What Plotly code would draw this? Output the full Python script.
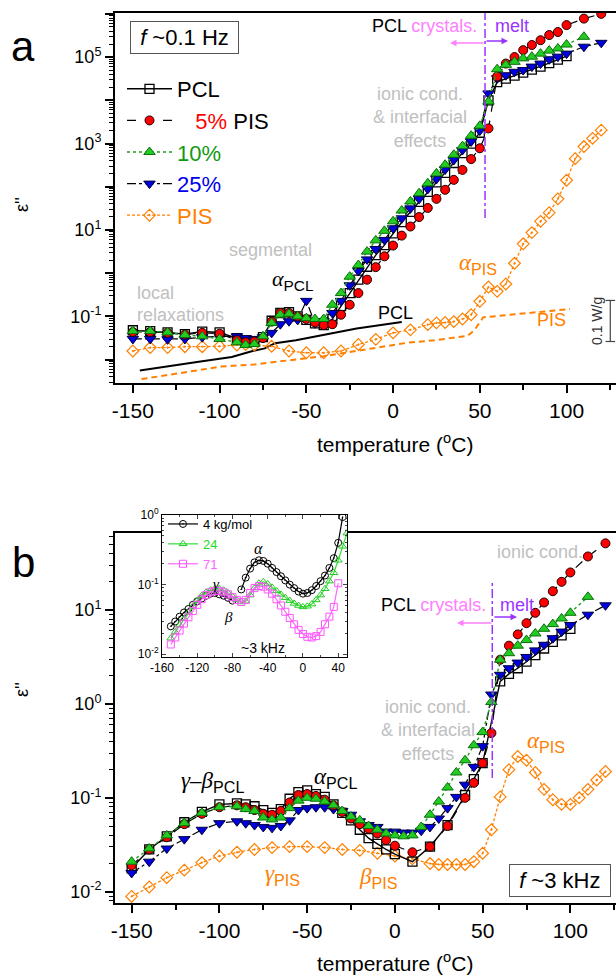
import plotly.graph_objects as go

FONT = "Liberation Sans, Arial, sans-serif"
SERIF = "Liberation Serif, Times New Roman, serif"
ORANGE = "#ff8000"
GRAY = "#c0c0c0"
PINK = "#ff80ff"
PURPLE = "#9933ff"

# ---------------- panel a: f ~ 0.1 Hz  (values are log10 of eps'') ----------------
T_a_pcl = [-150,-140,-130,-120,-110,-100,-90,-85,-80,-75,-70,-65,-60,-55,-50,-45,-40,-35,-30,-25,-20,-15,-10,-5,0,5,10,15,20,25,30,35,40,45,50,55,60,65,70,75,80,85,90,95,100]
L_a_pcl = [-1.32,-1.34,-1.37,-1.41,-1.35,-1.37,-1.50,-1.58,-1.58,-1.48,-1.10,-0.92,-0.90,-1.00,-1.08,-1.16,-1.20,-1.06,-0.76,-0.46,-0.15,0.15,0.42,0.65,0.92,1.18,1.42,1.65,1.88,2.10,2.32,2.55,2.78,3.00,3.25,4.00,4.42,4.50,4.57,4.64,4.71,4.78,4.86,4.94,5.02]

T_a_5 = [-150,-140,-130,-120,-110,-100,-90,-85,-80,-75,-70,-65,-60,-55,-50,-45,-40,-35,-30,-25,-20,-15,-10,-5,0,5,10,15,20,25,30,35,40,45,50,55,60,65,70,75,80,85,90,95,100,110,120]
L_a_5 = [-1.36,-1.36,-1.38,-1.42,-1.38,-1.40,-1.55,-1.60,-1.58,-1.50,-1.12,-0.92,-0.92,-1.00,-1.06,-1.14,-1.20,-1.18,-0.96,-0.73,-0.46,-0.15,0.14,0.39,0.64,0.87,1.08,1.30,1.51,1.72,1.93,2.16,2.39,2.64,2.89,3.35,4.55,4.85,5.00,5.16,5.28,5.39,5.51,5.58,5.74,5.89,6.00]

T_a_10 = [-150,-140,-130,-120,-110,-100,-90,-85,-80,-75,-70,-65,-60,-55,-50,-45,-40,-35,-30,-25,-20,-15,-10,-5,0,5,10,15,20,25,30,35,40,45,50,55,60,65,70,75,80,85,90,95,100,110]
L_a_10 = [-1.34,-1.34,-1.37,-1.43,-1.46,-1.52,-1.60,-1.66,-1.64,-1.46,-1.15,-0.96,-0.94,-1.00,-1.04,-1.06,-1.06,-0.73,-0.46,-0.08,0.19,0.50,0.76,0.98,1.20,1.45,1.66,1.85,2.08,2.31,2.51,2.74,2.94,3.18,3.41,3.97,4.72,4.82,4.89,4.97,5.01,5.08,5.15,5.20,5.29,5.47]

T_a_25 = [-150,-140,-130,-120,-110,-100,-90,-85,-80,-75,-70,-65,-60,-55,-50,-45,-40,-35,-30,-25,-20,-15,-10,-5,0,5,10,15,20,25,30,35,40,45,50,55,60,65,70,75,80,85,90,95,100,110,120]
L_a_25 = [-1.52,-1.52,-1.53,-1.52,-1.48,-1.46,-1.46,-1.50,-1.52,-1.48,-1.38,-1.18,-1.11,-1.08,-0.64,-1.16,-1.11,-0.92,-0.64,-0.28,0.05,0.32,0.56,0.77,1.04,1.27,1.50,1.72,1.95,2.18,2.40,2.62,2.85,3.05,3.30,4.16,4.51,4.58,4.66,4.70,4.78,4.85,4.95,5.01,5.08,5.24,5.33]

T_a_pis = [-150,-140,-130,-120,-110,-100,-90,-85,-80,-70,-60,-50,-40,-30,-20,-10,0,10,20,25,30,35,40,45,50,55,60,65,70,75,80,85,90,95,100,105,110,115,120]
L_a_pis = [-1.80,-1.72,-1.72,-1.70,-1.70,-1.69,-1.66,-1.65,-1.66,-1.69,-1.80,-1.84,-1.84,-1.80,-1.65,-1.53,-1.38,-1.31,-1.19,-1.15,-1.14,-1.12,-1.06,-0.96,-0.65,-0.32,-0.42,-0.25,0.23,0.68,0.94,1.20,1.40,1.72,2.15,2.65,2.93,3.12,3.31]

# DSC heat-flow curves (arbitrary vertical position, plotted on same log axis)
T_dsc_pcl = [-146,-130,-112,-93,-81,-74,-68,-56,-40,-21,5]
L_dsc_pcl = [-2.25,-2.15,-2.05,-1.94,-1.80,-1.74,-1.62,-1.55,-1.43,-1.28,-1.13]
T_dsc_pis = [-145,-124,-99,-80,-40,8,24,43,47,52,69,92,102]
L_dsc_pis = [-2.45,-2.31,-2.16,-2.11,-1.92,-1.61,-1.55,-1.45,-1.31,-1.02,-0.96,-0.88,-0.83]

# ---------------- panel b: f ~ 3 kHz ----------------
T_b_pcl = [-150,-140,-130,-120,-110,-100,-90,-85,-80,-75,-70,-65,-60,-55,-50,-45,-40,-35,-30,-25,-20,-15,-10,-5,0,10,20,30,40,45,50,60,65,70,75,80,85,90,95,100]
L_b_pcl = [-1.75,-1.55,-1.41,-1.26,-1.15,-1.07,-1.06,-1.07,-1.09,-1.13,-1.16,-1.12,-1.01,-0.94,-0.92,-0.96,-0.99,-1.07,-1.16,-1.24,-1.34,-1.43,-1.49,-1.55,-1.60,-1.68,-1.52,-1.29,-0.97,-0.80,-0.63,0.24,0.32,0.38,0.45,0.52,0.59,0.66,0.73,0.80]

T_b_5 = [-150,-140,-130,-120,-110,-100,-90,-85,-80,-75,-70,-65,-60,-55,-50,-45,-40,-35,-30,-25,-20,-15,-10,-5,0,10,20,30,40,45,50,55,60,65,70,75,80,85,90,95,100,110,120]
L_b_5 = [-1.72,-1.55,-1.42,-1.28,-1.17,-1.10,-1.08,-1.10,-1.13,-1.17,-1.18,-1.14,-1.05,-0.97,-0.96,-0.98,-1.02,-1.08,-1.15,-1.22,-1.28,-1.33,-1.38,-1.45,-1.51,-1.58,-1.52,-1.30,-1.00,-0.84,-0.63,-0.31,0.47,0.62,0.74,0.86,0.97,1.08,1.20,1.30,1.40,1.57,1.71]

T_b_10 = [-150,-140,-130,-120,-110,-100,-90,-85,-80,-75,-70,-65,-60,-55,-50,-45,-40,-35,-30,-25,-20,-15,-10,-5,0,5,10,15,20,25,30,35,40,45,50,55,60,65,70,75,80,85,90,95,100,110]
L_b_10 = [-1.68,-1.54,-1.40,-1.27,-1.16,-1.10,-1.09,-1.12,-1.14,-1.21,-1.23,-1.21,-1.11,-1.03,-1.00,-1.01,-1.04,-1.08,-1.14,-1.20,-1.24,-1.30,-1.34,-1.38,-1.40,-1.41,-1.40,-1.31,-1.18,-1.04,-0.89,-0.73,-0.60,-0.44,-0.30,0.02,0.47,0.54,0.62,0.68,0.75,0.80,0.85,0.91,0.97,1.14]

T_b_25 = [-150,-140,-130,-120,-110,-100,-90,-85,-80,-75,-70,-65,-60,-55,-50,-45,-40,-35,-30,-25,-20,-15,-10,-5,0,5,10,15,20,25,30,35,40,45,50,55,60,65,70,75,80,85,90,95,100,110,120]
L_b_25 = [-1.80,-1.68,-1.54,-1.44,-1.34,-1.27,-1.25,-1.27,-1.29,-1.31,-1.32,-1.30,-1.24,-1.13,-1.11,-1.10,-1.10,-1.12,-1.14,-1.18,-1.25,-1.29,-1.31,-1.36,-1.36,-1.37,-1.37,-1.35,-1.31,-1.22,-1.11,-0.99,-0.86,-0.67,-0.45,0.10,0.31,0.38,0.44,0.50,0.57,0.63,0.70,0.77,0.84,0.95,1.05]

T_b_pis = [-150,-140,-130,-120,-110,-100,-90,-80,-70,-60,-50,-40,-30,-20,-10,0,10,20,25,30,35,40,45,50,55,60,65,70,75,80,85,90,95,100,105,110,115,120]
L_b_pis = [-2.05,-1.95,-1.85,-1.77,-1.69,-1.62,-1.58,-1.55,-1.53,-1.52,-1.52,-1.53,-1.55,-1.56,-1.59,-1.62,-1.65,-1.70,-1.71,-1.71,-1.71,-1.71,-1.68,-1.59,-1.34,-0.99,-0.70,-0.56,-0.60,-0.73,-0.91,-1.02,-1.07,-1.07,-1.00,-0.91,-0.81,-0.72]

# ---------------- inset: molar mass series at ~3 kHz ----------------
T_in_4 = [-150,-145,-140,-135,-130,-125,-120,-115,-110,-105,-100,-95,-90,-85,-80,-75,-70,-65,-60,-55,-50,-45,-40,-35,-30,-25,-20,-15,-10,-5,0,5,10,15,20,25,30,35,40,45]
L_in_4 = [-1.60,-1.53,-1.46,-1.40,-1.35,-1.29,-1.24,-1.20,-1.16,-1.13,-1.12,-1.14,-1.16,-1.19,-1.23,None,-1.07,-0.90,-0.77,-0.68,-0.65,-0.66,-0.70,-0.76,-0.82,-0.88,-0.94,-1.00,-1.05,-1.10,-1.13,-1.12,-1.08,-1.02,-0.95,-0.87,-0.76,-0.62,-0.40,-0.03]
T_in_24 = [-150,-145,-140,-135,-130,-125,-120,-115,-110,-105,-100,-95,-90,-85,-80,-75,-70,-65,-60,-55,-50,-45,-40,-35,-30,-25,-20,-15,-10,-5,0,5,10,15,20,25,30,35,40,45,50]
L_in_24 = [-1.77,-1.68,-1.58,-1.49,-1.40,-1.31,-1.23,-1.16,-1.11,-1.08,-1.06,-1.06,-1.08,-1.12,-1.17,-1.22,-1.25,-1.24,-1.15,-1.05,-0.98,-0.96,-0.99,-1.04,-1.09,-1.14,-1.19,-1.23,-1.27,-1.30,-1.32,-1.31,-1.28,-1.22,-1.15,-1.06,-0.95,-0.83,-0.65,-0.45,-0.26]
T_in_71 = [-150,-145,-140,-135,-130,-125,-120,-115,-110,-105,-100,-95,-90,-85,-80,-75,-70,-65,-60,-55,-50,-45,-40,-35,-30,-25,-20,-15,-10,-5,0,5,10,15,20,25,30,35,40]
L_in_71 = [-1.86,-1.76,-1.66,-1.56,-1.47,-1.38,-1.29,-1.21,-1.15,-1.11,-1.09,-1.09,-1.11,-1.14,-1.18,-1.22,-1.25,-1.22,-1.12,-1.05,-1.02,-1.03,-1.07,-1.13,-1.21,-1.30,-1.39,-1.48,-1.57,-1.65,-1.71,-1.75,-1.76,-1.74,-1.68,-1.57,-1.46,-1.32,-0.98]

# melting line and DSC scale bar
T_melt_a, L_melt_a = [53, 53], [1.28, 6.2]
T_melt_b, L_melt_b = [55.5, 55.5], [-0.79, 1.29]
T_bar = [122.5, 128, None, 125.2, 125.2, None, 122.5, 128]
L_bar = [-0.63, -0.63, None, -0.63, -1.58, None, -1.58, -1.58]

x_ticks = [-150, -100, -50, 0, 50, 100]
x_ticktext = ["-150", "-100", "-50", "0", "50", "100"]
in_x_ticks = [-160, -120, -80, -40, 0, 40]
in_x_ticktext = ["-160", "-120", "-80", "-40", "0", "40"]


def ev(logs):
    return [None if v is None else 10 ** v for v in logs]


W, H = 616, 980
ML, MR, MT, MB = 115, 0, 13, 77
PW, PH = W - ML - MR, H - MT - MB


def px(x):
    return (x - ML) / PW


def py(y):
    return (H - MB - y) / PH


fig = go.Figure()

STY = {
    "pcl": dict(line=dict(color="black", width=1.4, dash="solid"),
                marker=dict(symbol="square-open", size=9, color="black", line=dict(width=1.3, color="black"))),
    "5": dict(line=dict(color="black", width=1.2, dash="dash"),
              marker=dict(symbol="circle", size=9, color="#ff0000", line=dict(width=1, color="#200000"))),
    "10": dict(line=dict(color="#1fa01f", width=1.4, dash="dot"),
               marker=dict(symbol="triangle-up", size=10, color="#22cc22", line=dict(width=1, color="#0c6e0c"))),
    "25": dict(line=dict(color="black", width=1.2, dash="dashdot"),
               marker=dict(symbol="triangle-down", size=10, color="#0000dd", line=dict(width=1, color="#000040"))),
    "pis": dict(line=dict(color=ORANGE, width=1.3, dash="3px,2px"),
                marker=dict(symbol="diamond-open-dot", size=9, color=ORANGE, line=dict(width=1.2, color=ORANGE))),
}
NAMES = {
    "pcl": "PCL",
    "5": "<span style='color:#ff0000'>\u00a0\u00a0\u00a05%</span> PIS",
    "10": "<span style='color:#119911'>10%</span>",
    "25": "<span style='color:#0000ee'>25%</span>",
    "pis": f"<span style='color:{ORANGE}'>PIS</span>",
}
RANK = {"pcl": 1, "5": 2, "10": 3, "25": 4, "pis": 5}

# DSC curves (panel a)
fig.add_trace(go.Scatter(x=T_dsc_pis, y=ev(L_dsc_pis), mode="lines", showlegend=False,
                         line=dict(color=ORANGE, width=2, dash="6px,4px"), xaxis="x", yaxis="y"))
fig.add_trace(go.Scatter(x=T_dsc_pcl, y=ev(L_dsc_pcl), mode="lines", showlegend=False,
                         line=dict(color="black", width=2), xaxis="x", yaxis="y"))

series_a = [("pis", T_a_pis, L_a_pis), ("pcl", T_a_pcl, L_a_pcl), ("25", T_a_25, L_a_25),
            ("5", T_a_5, L_a_5), ("10", T_a_10, L_a_10)]
for key, T, L in series_a:
    fig.add_trace(go.Scatter(x=T, y=ev(L), mode="lines+markers", name=NAMES[key], legendrank=RANK[key],
                             showlegend=True, legend="legend", xaxis="x", yaxis="y", **STY[key]))

series_b = [("pis", T_b_pis, L_b_pis), ("pcl", T_b_pcl, L_b_pcl), ("25", T_b_25, L_b_25),
            ("5", T_b_5, L_b_5), ("10", T_b_10, L_b_10)]
for key, T, L in series_b:
    fig.add_trace(go.Scatter(x=T, y=ev(L), mode="lines+markers", showlegend=False,
                             xaxis="x2", yaxis="y2", **STY[key]))

# melt lines and scale bar
fig.add_trace(go.Scatter(x=T_melt_a, y=ev(L_melt_a), mode="lines", showlegend=False,
                         line=dict(color=PURPLE, width=1.5, dash="dashdot"), xaxis="x", yaxis="y"))
fig.add_trace(go.Scatter(x=T_melt_b, y=ev(L_melt_b), mode="lines", showlegend=False,
                         line=dict(color=PURPLE, width=1.5, dash="dashdot"), xaxis="x2", yaxis="y2"))
fig.add_trace(go.Scatter(x=T_bar, y=ev(L_bar), mode="lines", showlegend=False, connectgaps=False,
                         line=dict(color="#444444", width=1.2), xaxis="x", yaxis="y"))

# inset
fig.add_trace(go.Scatter(x=T_in_4, y=ev(L_in_4), mode="lines+markers", name="4 kg/mol", legend="legend2",
                         connectgaps=False, xaxis="x3", yaxis="y3",
                         line=dict(color="black", width=1.2),
                         marker=dict(symbol="circle-open-dot", size=7, color="black", line=dict(width=1))))
fig.add_trace(go.Scatter(x=T_in_24, y=ev(L_in_24), mode="lines+markers",
                         name="<span style='color:#22dd22'>24</span>", legend="legend2",
                         xaxis="x3", yaxis="y3", line=dict(color="#33dd33", width=1.2),
                         marker=dict(symbol="triangle-up-open", size=7, color="#22cc22", line=dict(width=1))))
fig.add_trace(go.Scatter(x=T_in_71, y=ev(L_in_71), mode="lines+markers",
                         name="<span style='color:#ff66ff'>71</span>", legend="legend2",
                         xaxis="x3", yaxis="y3", line=dict(color="#ff66ff", width=1.2),
                         marker=dict(symbol="square-open", size=7, color="#ff55ff", line=dict(width=1))))


def minor_log(lo, hi):
    return [k * 10 ** d for d in range(lo, hi) for k in range(2, 10)]


def xaxis_main(rng, anchor, domain=(0, 1)):
    return dict(range=rng, domain=list(domain), anchor=anchor, showline=True, linewidth=2, linecolor="black",
                mirror=True, ticks="outside", ticklen=8, tickwidth=1.5, tickcolor="black",
                tickmode="array", tickvals=x_ticks, ticktext=x_ticktext,
                tickfont=dict(family=FONT, size=21, color="black"),
                minor=dict(ticks="outside", ticklen=5, tickwidth=1.5, tickcolor="black",
                           tickmode="array", tickvals=[-125, -75, -25, 25, 75, 125]),
                showgrid=False, zeroline=False)


def yaxis_main(rng, anchor, domain, vals, texts, mlo, mhi):
    return dict(type="log", range=rng, domain=list(domain), anchor=anchor, showline=True, linewidth=2,
                linecolor="black", ticks="outside", ticklen=8, tickwidth=1.5, tickcolor="black",
                tickmode="array", tickvals=vals, ticktext=texts,
                tickfont=dict(family=FONT, size=18, color="black"),
                minor=dict(ticks="outside", ticklen=4, tickwidth=1.2, tickcolor="black",
                           tickmode="array", tickvals=minor_log(mlo, mhi)),
                showgrid=False, zeroline=False)


ya_vals = [10 ** d for d in range(-2, 7)]
ya_text = ["", "10<sup>-1</sup>", "", "10<sup>1</sup>", "", "10<sup>3</sup>", "", "10<sup>5</sup>", ""]
yb_vals = [10 ** d for d in range(-2, 2)]
yb_text = ["10<sup>-2</sup>", "10<sup>-1</sup>", "10<sup>0</sup>", "10<sup>1</sup>"]

dom_a = (py(383), 1.0)
dom_b = (0.0, py(533))
inset_x = (px(162), px(347))
inset_y = (py(657), py(515))

layout = dict(
    width=W, height=H, margin=dict(l=ML, r=MR, t=MT, b=MB),
    paper_bgcolor="white", plot_bgcolor="white",
    font=dict(family=FONT, color="black"),
    xaxis=xaxis_main([-160.3, 128.5], "y"),
    yaxis=yaxis_main([-2.54, 6.02], "x", dom_a, ya_vals, ya_text, -3, 7),
    xaxis2=xaxis_main([-159.5, 126], "y2"),
    yaxis2=yaxis_main([-2.12, 1.82], "x2", dom_b, yb_vals, yb_text, -3, 2),
    xaxis3=dict(range=[-160, 50], domain=list(inset_x), anchor="y3", showline=True, linewidth=1,
                linecolor="black", mirror="ticks", ticks="inside", ticklen=4, tickwidth=1,
                tickmode="array", tickvals=in_x_ticks, ticktext=in_x_ticktext,
                tickfont=dict(family=FONT, size=12, color="black"),
                minor=dict(ticks="inside", ticklen=2, tickwidth=1, tickmode="array",
                           tickvals=[-140, -100, -60, -20, 20]),
                showgrid=False, zeroline=False),
    yaxis3=dict(type="log", range=[-2.04, 0.0], domain=list(inset_y), anchor="x3", showline=True, linewidth=1,
                linecolor="black", mirror="ticks", ticks="inside", ticklen=4, tickwidth=1,
                tickmode="array", tickvals=[0.01, 0.1, 1],
                ticktext=["10<sup>-2</sup>", "10<sup>-1</sup>", "10<sup>0</sup>"],
                tickfont=dict(family=FONT, size=12, color="black"),
                minor=dict(ticks="inside", ticklen=2, tickwidth=1, tickmode="array",
                           tickvals=minor_log(-3, 1)),
                showgrid=False, zeroline=False),
    legend=dict(x=px(122), y=py(68), xanchor="left", yanchor="top", bgcolor="rgba(0,0,0,0)",
                font=dict(family=FONT, size=22, color="black"), tracegroupgap=0, itemwidth=45,
                traceorder="normal"),
    legend2=dict(x=px(163), y=py(509), xanchor="left", yanchor="top", bgcolor="rgba(0,0,0,0)",
                 font=dict(family=FONT, size=13, color="black"), tracegroupgap=0, itemwidth=30),
    showlegend=True,
)
fig.update_layout(**layout)


def ann(text, x, y, size=18, color="black", xanchor="center", yanchor="middle", family=FONT, **kw):
    return dict(text=text, x=px(x), y=py(y), xref="paper", yref="paper", showarrow=False,
                font=dict(family=family, size=size, color=color), xanchor=xanchor, yanchor=yanchor, **kw)


def greek(g, sub):
    return (f"<span style='font-family:{SERIF}'><i>{g}</i></span>"
            f"<sub>{sub}</sub>")


def arrow(xh, xt, y, color):
    return dict(x=px(xh), y=py(y), xref="paper", yref="paper", ax=xt - xh, ay=0, text="",
                showarrow=True, arrowhead=2, arrowsize=1, arrowwidth=1.3, arrowcolor=color)


anns = [
    ann("a", 23, 46, size=42),
    ann("b", 23, 562, size=42),
    ann("\u00a0<i>f</i> ~0.1 Hz\u00a0", 184, 37, size=22, bordercolor="#555555", borderwidth=1,
        borderpad=3, bgcolor="white"),
    ann("\u00a0<i>f</i> ~3 kHz\u00a0", 560, 880, size=22, bordercolor="#555555", borderwidth=1,
        borderpad=3, bgcolor="white"),
    ann("\u03b5''", 22, 205, size=18, textangle=-90),
    ann("\u03b5''", 22, 690, size=18, textangle=-90),
    ann("temperature (<sup>o</sup>C)", 395, 443, size=21),
    ann("temperature (<sup>o</sup>C)", 395, 962, size=21),
    # panel a texts
    ann("segmental", 270, 250, color=GRAY),
    ann("local", 135, 293, color=GRAY, xanchor="left"),
    ann("relaxations", 135, 315, color=GRAY, xanchor="left"),
    ann(greek("\u03b1", "PCL"), 293, 280, size=22),
    ann("ionic cond.<br>& interfacial<br>effects", 420, 117, color=GRAY),
    ann(f"PCL <span style='color:{PINK}'>crystals.</span>", 479, 26, xanchor="right"),
    ann(f"<span style='color:{PURPLE}'>melt</span>", 493, 26, xanchor="left"),
    arrow(450, 485, 43, PINK),
    arrow(508, 485, 41, PURPLE),
    ann(greek("\u03b1", "PIS"), 478, 264, size=23, color=ORANGE),
    ann("PCL", 395, 313),
    ann("PIS", 551, 320, color=ORANGE),
    ann("0.1 W/g", 597, 321, size=14, color="#333333", textangle=-90),
    # panel b texts
    ann("ionic cond.", 540, 552, color=GRAY),
    ann("ionic cond.<br>& interfacial<br>effects", 428, 730, color=GRAY),
    ann(f"PCL <span style='color:{PINK}'>crystals.</span>", 488, 605, xanchor="right"),
    ann(f"<span style='color:{PURPLE}'>melt</span>", 498, 605, xanchor="left"),
    arrow(457, 493, 623, PINK),
    arrow(517, 493, 617, PURPLE),
    ann(f"<span style='font-family:{SERIF}'><i>\u03b3</i>\u2013<i>\u03b2</i></span><sub>PCL</sub>",
        212, 782, size=23),
    ann(greek("\u03b1", "PCL"), 335, 778, size=23),
    ann(greek("\u03b3", "PIS"), 282, 875, size=23, color=ORANGE),
    ann(greek("\u03b2", "PIS"), 378, 878, size=23, color=ORANGE),
    ann(greek("\u03b1", "PIS"), 546, 742, size=23, color=ORANGE),
    # inset texts
    ann("<i>\u03b1</i>", 258, 548, size=16, family=SERIF),
    ann("<i>\u03b3</i>", 216, 584, size=15, family=SERIF),
    ann("<i>\u03b2</i>", 228, 617, size=15, family=SERIF),
    ann("~3 kHz", 263, 648, size=14),
]
fig.update_layout(annotations=anns)

fig.write_html("out.html")
